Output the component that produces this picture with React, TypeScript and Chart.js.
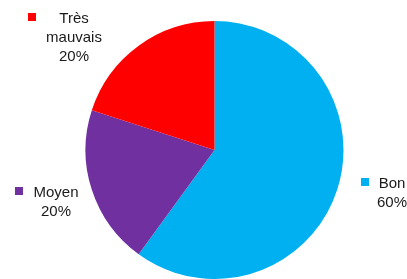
import React, { useEffect, useRef } from "react";
import { Chart, registerables } from "chart.js";

Chart.register(...registerables);

const categories = ["Bon", "Moyen", "Très mauvais"];
const values = [60, 20, 20];
const percentLabels = ["60%", "20%", "20%"];
const colors = ["#00B0F0", "#7030A0", "#FF0000"];

// label block layout
const labelLayout = [
  { sq: [361, 178], cx: 392, cy: 184, lines: ["Bon", percentLabels[0]] },
  { sq: [15, 187], cx: 56, cy: 193, lines: ["Moyen", percentLabels[1]] },
  { sq: [28, 13], cx: 74, cy: 19, lines: ["Très", "mauvais", percentLabels[2]] },
];

const labelPlugin = {
  id: "pieLabels",
  afterDraw(chart: any) {
    const ctx = chart.ctx;
    ctx.save();
    ctx.font = "15px 'Liberation Sans', Arial, sans-serif";
    ctx.textAlign = "center";
    ctx.textBaseline = "middle";
    labelLayout.forEach((l, i) => {
      ctx.fillStyle = colors[i];
      ctx.fillRect(l.sq[0], l.sq[1], 8, 8);
      ctx.fillStyle = "#1a1a1a";
      l.lines.forEach((t, j) => {
        ctx.fillText(t, l.cx, l.cy + j * 19);
      });
    });
    ctx.restore();
  },
};

export default function App() {
  const ref = useRef<HTMLCanvasElement>(null);
  useEffect(() => {
    document.body.style.margin = "0";
    const chart = new Chart(ref.current!, {
      type: "pie",
      data: {
        labels: categories,
        datasets: [
          {
            data: values,
            backgroundColor: colors,
            borderWidth: 0,
          },
        ],
      },
      options: {
        animation: false,
        responsive: false,
        layout: { padding: { left: 85, right: 63, top: 21, bottom: 0 } },
        plugins: { legend: { display: false }, tooltip: { enabled: false } },
      },
      plugins: [labelPlugin],
    });
    return () => chart.destroy();
  }, []);
  return (
    <div style={{ position: "absolute", left: 0, top: 0, width: 407, height: 279, background: "#fff" }}>
      <canvas ref={ref} width={407} height={279} style={{ width: 407, height: 279 }} />
    </div>
  );
}
